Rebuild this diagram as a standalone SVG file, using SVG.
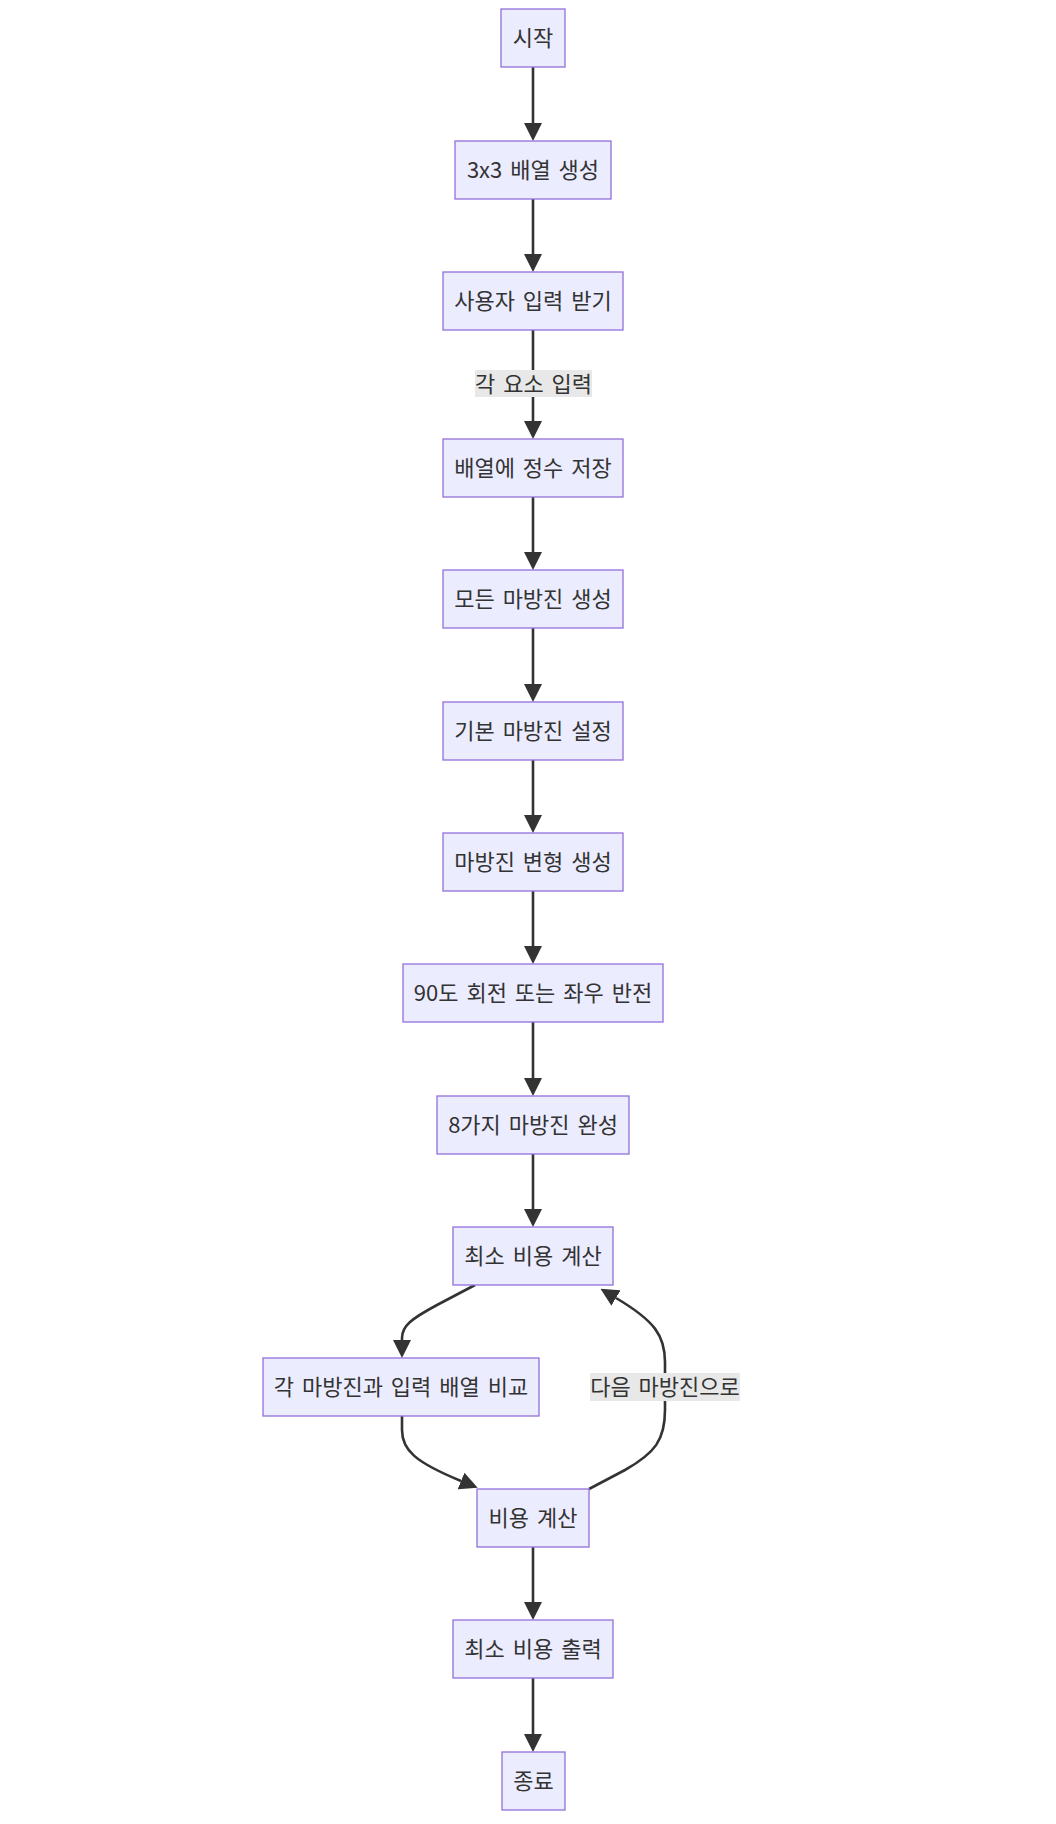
<svg xmlns="http://www.w3.org/2000/svg" width="1056" height="1824" viewBox="0 0 1056 1824">
<style>
.node rect{fill:#ECECFF;stroke:#9370DB;stroke-width:1.3}
text{font-family:"Noto Sans CJK KR","Liberation Sans",sans-serif;font-size:22px;fill:#333333;text-anchor:middle;word-spacing:3px}
.edge{fill:none;stroke:#333333;stroke-width:2.6}
.lbl rect{fill:#e8e8e8}
</style>
<defs>
<marker id="arrow" viewBox="0 0 10 10" refX="0" refY="5" markerUnits="userSpaceOnUse" markerWidth="18" markerHeight="18" orient="auto">
<path d="M0,0 L10,5 L0,10 z" fill="#333333"/>
</marker>
</defs>
<rect width="1056" height="1824" fill="#ffffff"/>
<g id="connectors">
<path class="edge" marker-end="url(#arrow)" d="M533,67 L533,123"/>
<path class="edge" marker-end="url(#arrow)" d="M533,199 L533,254"/>
<path class="edge" marker-end="url(#arrow)" d="M533,330 L533,421"/>
<path class="edge" marker-end="url(#arrow)" d="M533,497 L533,552"/>
<path class="edge" marker-end="url(#arrow)" d="M533,628 L533,684"/>
<path class="edge" marker-end="url(#arrow)" d="M533,760 L533,815"/>
<path class="edge" marker-end="url(#arrow)" d="M533,891 L533,946"/>
<path class="edge" marker-end="url(#arrow)" d="M533,1022 L533,1078"/>
<path class="edge" marker-end="url(#arrow)" d="M533,1154 L533,1209"/>
<path class="edge" marker-end="url(#arrow)" d="M475,1285 L437,1305 C411,1319 402,1326 402,1338 L402,1340"/>
<path class="edge" marker-end="url(#arrow)" d="M402,1416 L402,1430 C402,1450 415,1462 461,1481"/>
<path class="edge" marker-end="url(#arrow)" d="M589,1489 L625,1470 C655,1453 665,1440 665,1410 L665,1362 C665,1336 655,1321 616,1298"/>
<path class="edge" marker-end="url(#arrow)" d="M533,1547 L533,1602"/>
<path class="edge" marker-end="url(#arrow)" d="M533,1678 L533,1734"/>
<g class="lbl" id="label-input">
<rect x="475" y="370" width="117" height="27"/>
<text x="533.5" y="391.5">각 요소 입력</text>
</g>
<g class="lbl" id="label-next">
<rect x="590" y="1373" width="150" height="28"/>
<text x="665" y="1395">다음 마방진으로</text>
</g>
</g>
<g id="n1" class="node"><rect x="501" y="9" width="64" height="58"/><text x="533" y="46">시작</text></g>
<g id="n2" class="node"><rect x="455" y="141" width="156" height="58"/><text x="533" y="178">3x3 배열 생성</text></g>
<g id="n3" class="node"><rect x="443" y="272" width="180" height="58"/><text x="533" y="309">사용자 입력 받기</text></g>
<g id="n4" class="node"><rect x="443" y="439" width="180" height="58"/><text x="533" y="476">배열에 정수 저장</text></g>
<g id="n5" class="node"><rect x="443" y="570" width="180" height="58"/><text x="533" y="607">모든 마방진 생성</text></g>
<g id="n6" class="node"><rect x="443" y="702" width="180" height="58"/><text x="533" y="739">기본 마방진 설정</text></g>
<g id="n7" class="node"><rect x="443" y="833" width="180" height="58"/><text x="533" y="870">마방진 변형 생성</text></g>
<g id="n8" class="node"><rect x="403" y="964" width="260" height="58"/><text x="533" y="1001">90도 회전 또는 좌우 반전</text></g>
<g id="n9" class="node"><rect x="437" y="1096" width="192" height="58"/><text x="533" y="1133">8가지 마방진 완성</text></g>
<g id="n10" class="node"><rect x="453" y="1227" width="160" height="58"/><text x="533" y="1264">최소 비용 계산</text></g>
<g id="n11" class="node"><rect x="263" y="1358" width="276" height="58"/><text x="401" y="1395">각 마방진과 입력 배열 비교</text></g>
<g id="n12" class="node"><rect x="477" y="1489" width="112" height="58"/><text x="533" y="1526">비용 계산</text></g>
<g id="n13" class="node"><rect x="453" y="1620" width="160" height="58"/><text x="533" y="1657">최소 비용 출력</text></g>
<g id="n14" class="node"><rect x="502" y="1752" width="63" height="58"/><text x="533.5" y="1789">종료</text></g>
</svg>
